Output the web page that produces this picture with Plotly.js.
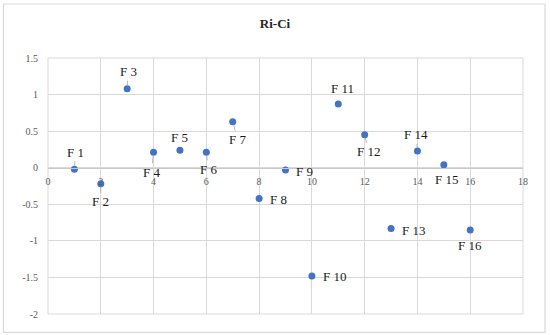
<!DOCTYPE html>
<html>
<head>
<meta charset="utf-8">
<script src="https://cdn.plot.ly/plotly-3.0.1.min.js"></script>
<style>html,body{margin:0;padding:0;background:#fff;}#chart{width:550px;height:335px;}</style>
</head>
<body>
<div id="chart"></div>
<script>
// Data
const labels = ["F 1","F 2","F 3","F 4","F 5","F 6","F 7","F 8","F 9","F 10","F 11","F 12","F 13","F 14","F 15","F 16"];
const xValues = [1,2,3,4,5,6,7,8,9,10,11,12,13,14,15,16];
const yValues = [-0.02,-0.22,1.08,0.21,0.24,0.21,0.63,-0.42,-0.03,-1.48,0.87,0.45,-0.83,0.23,0.04,-0.85];
const xTicks = [0,2,4,6,8,10,12,14,16,18];
const yTicks = [-2,-1.5,-1,-0.5,0,0.5,1,1.5];

// Label placement (pixel offsets of text from point) and whether a leader line is shown
const labelDx = [1,0,1,-2,0,2,5,19,19,23,4,4,22,-1,3,0];
const labelDy = [-17,18,-17,20,-13,17,18,1,2,1,-16,17,2,-16,15,16];
const leader  = [1,1,1,1,0,1,1,0,0,0,0,1,0,1,0,0];

const serif = "'Liberation Serif', 'DejaVu Serif', serif";

const annotations = labels.map((t, i) => {
  const a = {
    x: xValues[i], y: yValues[i], xref: 'x', yref: 'y', text: t,
    font: {family: serif, size: 13, color: '#1a1a1a'}
  };
  if (leader[i]) {
    Object.assign(a, {showarrow: true, ax: labelDx[i], ay: labelDy[i], arrowhead: 0,
      arrowwidth: 0.8, arrowcolor: '#a6a6a6', standoff: 3});
  } else {
    Object.assign(a, {showarrow: false, xshift: labelDx[i], yshift: -labelDy[i]});
  }
  return a;
});

const trace = {
  type: 'scatter', mode: 'markers', x: xValues, y: yValues,
  marker: {color: '#4472C4', size: 7},
  hoverinfo: 'skip'
};

const yMin = -2, yMax = 1.5;
const layout = {
  width: 550, height: 335,
  margin: {l: 48, r: 27, t: 58, b: 21},
  paper_bgcolor: '#ffffff', plot_bgcolor: '#ffffff',
  showlegend: false,
  title: {text: '<b>Ri-Ci</b>', x: 0.5, xanchor: 'center', y: 1 - 23/335, yanchor: 'middle',
    font: {family: serif, size: 13, color: '#262626'}},
  xaxis: {
    range: [0, 18], tickvals: xTicks, ticktext: xTicks.map(String),
    showgrid: true, gridcolor: '#d9d9d9', gridwidth: 1,
    zeroline: false, showline: true, linecolor: '#c8c8c8', linewidth: 1,
    anchor: 'free', position: (0 - yMin) / (yMax - yMin),
    ticks: '', ticklabelstandoff: 4,
    tickfont: {family: serif, size: 10, color: '#595959'}, fixedrange: true
  },
  yaxis: {
    range: [yMin, yMax], tickvals: yTicks, ticktext: yTicks.map(String),
    showgrid: true, gridcolor: '#d9d9d9', gridwidth: 1,
    zeroline: false, showline: false,
    ticks: '', ticklabelstandoff: 9,
    tickfont: {family: serif, size: 10, color: '#595959'}, fixedrange: true
  },
  shapes: [
    {type: 'rect', xref: 'paper', yref: 'paper', x0: 0, x1: 1, y0: 0, y1: 1,
      line: {color: '#d9d9d9', width: 1}, layer: 'below'},
    {type: 'rect', xref: 'paper', yref: 'paper',
      x0: (3.5 - 48) / 475, x1: (545 - 48) / 475,
      y0: -(332.3 - 314) / 256, y1: 1 + (58 - 4) / 256,
      line: {color: '#d9d9d9', width: 1.2}, layer: 'below'}
  ],
  annotations: annotations
};

Plotly.newPlot('chart', [trace], layout, {staticPlot: true, displayModeBar: false});
</script>
</body>
</html>
